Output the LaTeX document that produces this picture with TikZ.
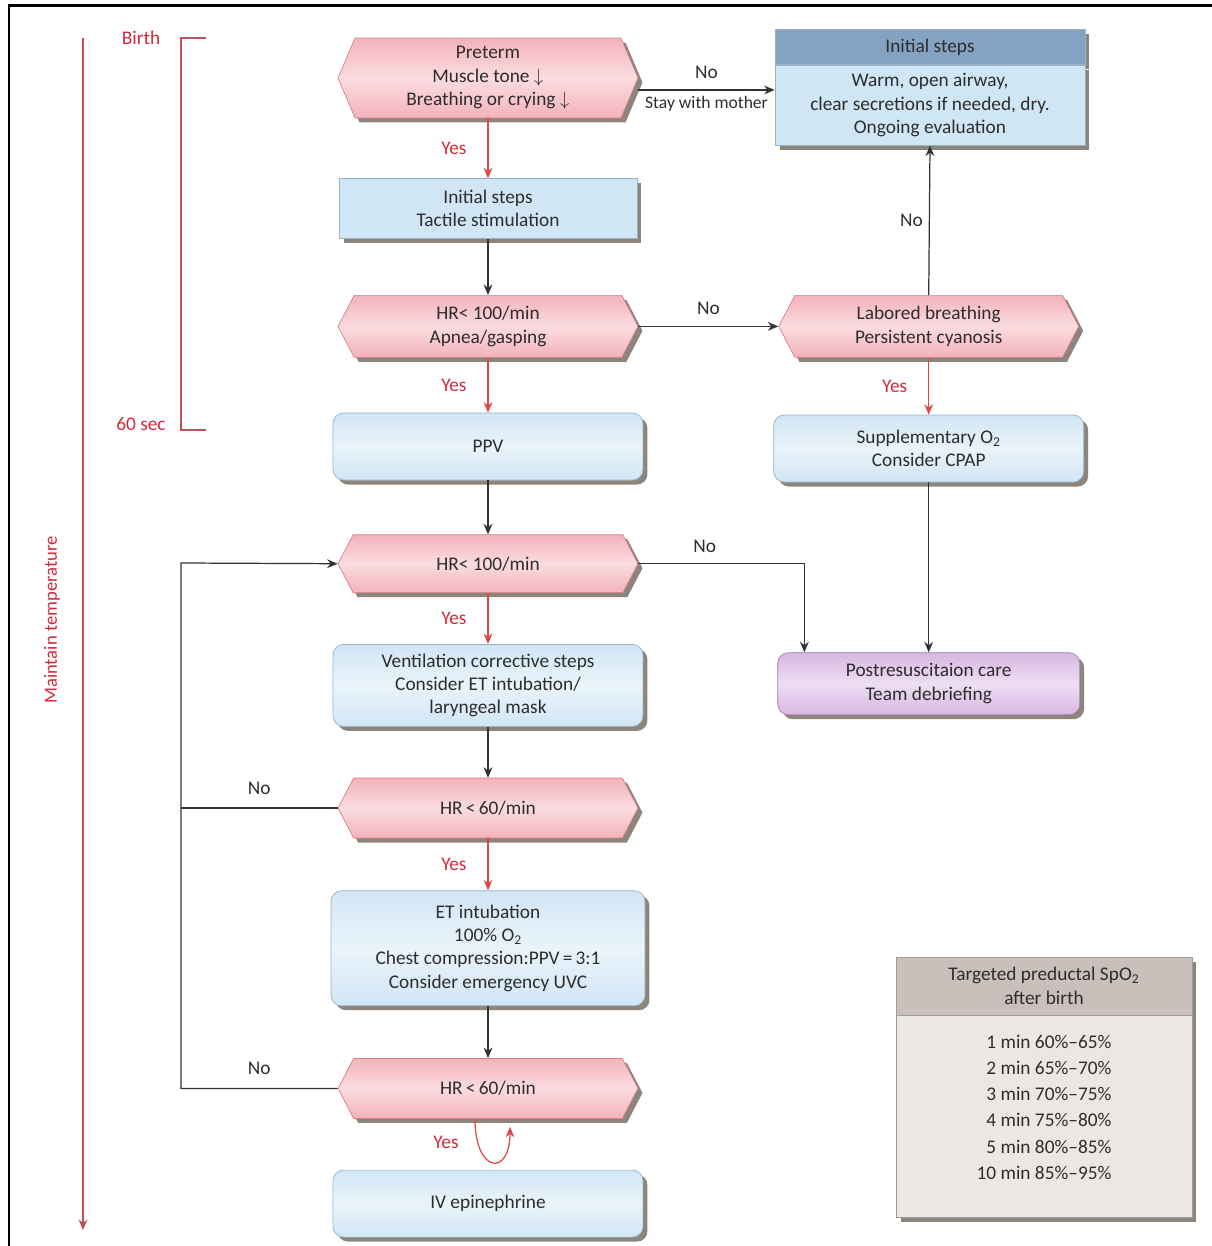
\documentclass[tikz,border=0pt]{standalone}
\usepackage{fontspec}
\setmainfont{Carlito}
\usetikzlibrary{positioning, shapes.symbols, shadows, arrows.meta}
\definecolor{hexpink}{RGB}{244,178,186}
\definecolor{hexedge}{RGB}{214,128,138}
\definecolor{boxblue}{RGB}{208,230,245}
\definecolor{boxedge}{RGB}{150,178,198}
\definecolor{headblue}{RGB}{132,162,194}
\definecolor{carepurple}{RGB}{216,182,226}
\definecolor{careedge}{RGB}{168,130,180}
\definecolor{tabhead}{RGB}{201,192,188}
\definecolor{tabbody}{RGB}{236,231,229}
\definecolor{yesred}{RGB}{214,40,58}
\definecolor{arrred}{RGB}{222,72,72}
\definecolor{timered}{RGB}{196,78,88}
\definecolor{txtgray}{RGB}{45,45,45}
\tikzset{
    boxshadow/.style={drop shadow={shadow xshift=0.09cm, shadow yshift=-0.09cm, fill=black!75!brown, opacity=0.55}},
    hexq/.style={signal, signal to=west and east, signal pointer angle=125, draw=hexedge, top color=hexpink, bottom color=hexpink, middle color=hexpink!45!white, boxshadow, minimum width=6cm, minimum height=1.2cm, align=center, text=txtgray, inner sep=1pt},
    act/.style={rectangle, draw=boxedge, fill=boxblue, boxshadow, minimum width=5.96cm, minimum height=1.2cm, align=center, text=txtgray},
    ract/.style={act, rounded corners=6pt, minimum width=6.2cm, top color=boxblue, bottom color=boxblue, middle color=boxblue!45!white},
    care/.style={ract, draw=careedge, top color=carepurple, bottom color=carepurple, middle color=carepurple!45!white},
    lbl/.style={text=txtgray},
    yes/.style={text=yesred},
    line/.style={draw=black!80, line width=0.7pt},
    arr/.style={line, -{Stealth[length=6pt, width=5pt]}},
    yarr/.style={arr, draw=arrred},
    timeline/.style={draw=timered, line width=0.8pt},
}

\begin{document}
\begin{tikzpicture}[x=0.02cm, y=-0.02cm, font=\fontsize{11}{13.3}\selectfont]
    \useasboundingbox (0,0) rectangle (1212,1246);
    \draw[line width=0.06cm] (9,1246) -- (9,6) -- (1212,6);

    % time line on the left
    \draw[timeline, -{Stealth[length=6pt, width=5pt]}] (83,38) -- (83,1230);
    \node[yes, rotate=90, font=\fontsize{10.6}{12}\selectfont] (maint) at (52,620) {Maintain temperature};
    \draw[timeline] (206,38) -- (181,38) -- (181,430) -- (206,430);
    \node[yes] (birth) at (141,38) {Birth};
    \node[yes] (sixty) at (141,424) {60 sec};

    % main column
    \node [hexq, minimum height=1.6cm, signal pointer angle=134] (pre) at (488,78) {Preterm\\Muscle tone $\downarrow$\\Breathing or crying $\downarrow$};
    \node [act] (tact) [below=1.2cm of pre] {Initial steps\\Tactile stimulation};
    \node [hexq, minimum height=1.24cm] (hra) [below=1.12cm of tact] {HR< 100/min\\Apnea/gasping};
    \node [ract, minimum height=1.34cm] (ppv) [below=1.1cm of hra] {PPV};
    \node [hexq, minimum height=1.16cm] (hrb) [below=1.08cm of ppv] {HR< 100/min};
    \node [ract, minimum height=1.64cm] (vent) [below=1.02cm of hrb] {Ventilation corrective steps\\Consider ET intubation/\\laryngeal mask};
    \node [hexq] (hrc) [below=1.02cm of vent] {HR\,<\,60/min};
    \node [ract, minimum height=2.3cm, minimum width=6.28cm] (etube) [below=1.04cm of hrc] {ET intubation\\100\% O\textsubscript{2}\\Chest compression:PPV\,=\,3:1\\Consider emergency UVC};
    \node [hexq] (hrd) [below=1.04cm of etube] {HR\,<\,60/min};
    \node [ract, minimum height=1.34cm] (epi) [below=1.02cm of hrd] {IV epinephrine};

    % right column
    \node [act, fill=headblue, minimum width=6.2cm, minimum height=0.7cm] (inithead) at (930,47) {Initial steps};
    \node [act, minimum width=6.2cm, minimum height=1.6cm] (initbody) [below=0pt of inithead] {Warm, open airway,\\clear secretions if needed, dry.\\Ongoing evaluation};
    \node [hexq, minimum height=1.24cm] (labr) [right=2.8cm of hra] {Labored breathing\\Persistent cyanosis};
    \node [ract, minimum height=1.34cm] (supp) [below=1.14cm of labr] {Supplementary O\textsubscript{2}\\Consider CPAP};
    \node [care, minimum height=1.24cm, minimum width=6.04cm] (post) [below=3.4cm of supp] {Postresuscitaion care\\Team debriefing};

    % SpO2 table
    \node [act, fill=tabhead, draw=tabhead!80!black, minimum width=5.92cm, minimum height=1.16cm] (sphead) at (1044,986) {Targeted preductal SpO\textsubscript{2}\\after birth};
    \node [act, fill=tabbody, draw=tabhead!80!black, minimum width=5.92cm, minimum height=4.04cm, align=right, text depth=0.38cm, font=\fontsize{11}{14.9}\selectfont] (spbody) [below=0pt of sphead] {1 min 60\%--65\%\\2 min 65\%--70\%\\3 min 70\%--75\%\\4 min 75\%--80\%\\5 min 80\%--85\%\\10 min 85\%--95\%};

    % yes branches
    \draw[yarr] (pre.south) -- node[yes, left=0.3cm] {Yes} (tact.north);
    \draw[yarr] (hra.south) -- node[yes, left=0.3cm] {Yes} (ppv.north);
    \draw[yarr] (hrb.south) -- node[yes, left=0.3cm] {Yes} (vent.north);
    \draw[yarr] (hrc.south) -- node[yes, left=0.3cm] {Yes} (etube.north);
    \draw[yarr] (labr.south) -- node[yes, left=0.3cm] {Yes} (supp.north);
    \draw[yarr] ([xshift=-0.26cm]hrd.south) .. controls +(0,-1.1cm) and +(0,-1.0cm) .. ([xshift=0.44cm, yshift=-0.16cm]hrd.south);
    \node[yes] (yesloop) at (446,1142) {Yes};

    % plain steps
    \draw[arr] (tact.south) -- (hra.north);
    \draw[arr] (ppv.south) -- (hrb.north);
    \draw[arr] (vent.south) -- (hrc.north);
    \draw[arr] (etube.south) -- (hrd.north);
    \draw[arr] (supp.south) -- (post.north);

    % no branches
    \draw[arr] ([yshift=-0.24cm]pre.east) -- node[lbl, above=0.1cm] {No} node[lbl, below, font=\fontsize{10}{11}\selectfont] {Stay with mother} ([yshift=-0.24cm]pre.east -| initbody.west);
    \draw[arr] (hra.east) -- node[lbl, above=0.1cm] {No} (labr.west);
    \draw[arr] (labr.north) -- node[lbl, left] {No} (initbody.south);
    \draw[arr] (hrb.east) -| node[lbl, above=0.1cm, pos=0.2] {No} ([xshift=0.54cm]post.north west);

    % back to HR check
    \coordinate (loopx) at (181,563);
    \draw[line] (hrc.west) -- node[lbl, above=0.14cm] {No} (hrc.west -| loopx);
    \draw[arr] (hrd.west) -- node[lbl, above=0.14cm] {No} (hrd.west -| loopx) -- (loopx) -- (hrb.west);
\end{tikzpicture}
\end{document}
